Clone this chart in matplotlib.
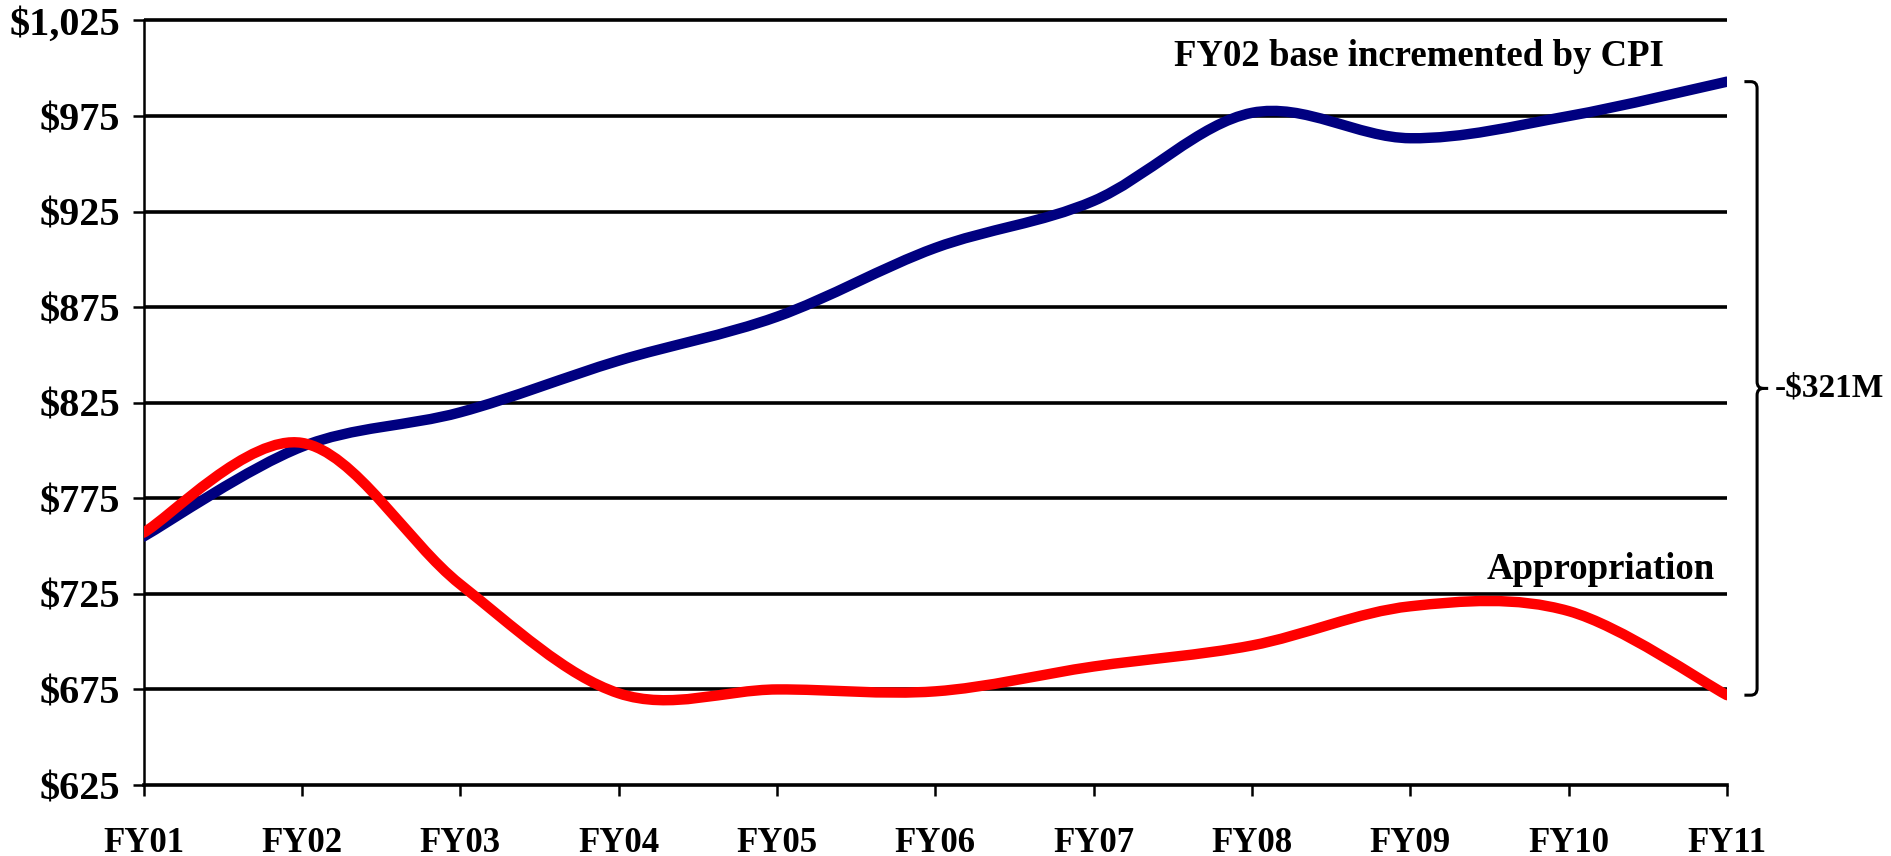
"""CPI-incremented FY02 base vs. actual appropriation, FY01-FY11."""

import matplotlib

matplotlib.use("Agg")
import matplotlib.pyplot as plt
from matplotlib.path import Path
from matplotlib.patches import PathPatch

fiscal_years = ["FY01", "FY02", "FY03", "FY04", "FY05", "FY06",
                "FY07", "FY08", "FY09", "FY10", "FY11"]
cpi_base = [755, 802, 820, 847, 870, 906, 930.6, 976.7, 963.4, 975, 993]
appropriation = [757, 804, 730, 673, 675, 674, 687, 698, 718.5, 716, 672]
y_ticks = [625, 675, 725, 775, 825, 875, 925, 975, 1025]
y_tick_labels = ["$625", "$675", "$725", "$775", "$825", "$875", "$925", "$975", "$1,025"]
gap_label = "-$321M"

plt.rcParams["font.family"] = ["Liberation Serif", "DejaVu Serif"]
plt.rcParams["font.weight"] = "bold"


def smooth_path(xs, ys):
    """Excel-style smoothed line: Bezier segments with Catmull-Rom handles."""
    pts = list(zip(xs, ys))
    n = len(pts)
    verts = [pts[0]]
    codes = [Path.MOVETO]
    for i in range(n - 1):
        p0 = pts[max(i - 1, 0)]
        p1 = pts[i]
        p2 = pts[i + 1]
        p3 = pts[min(i + 2, n - 1)]
        c1 = (p1[0] + (p2[0] - p0[0]) / 6, p1[1] + (p2[1] - p0[1]) / 6)
        c2 = (p2[0] - (p3[0] - p1[0]) / 6, p2[1] - (p3[1] - p1[1]) / 6)
        verts += [c1, c2, p2]
        codes += [Path.CURVE4] * 3
    return Path(verts, codes)


fig = plt.figure(figsize=(18.91, 8.56), dpi=100)
ax = fig.add_axes([143.5 / 1891, 71 / 856, 1583.5 / 1891, 764.5 / 856])

x = list(range(len(fiscal_years)))
ax.set_xlim(0, len(x) - 1)
ax.set_ylim(y_ticks[0], y_ticks[-1])

# horizontal gridlines, drawn unclipped so the top one is full width
ax.hlines(y_ticks[1:], 0, len(x) - 1, colors="black", lw=2.6, clip_on=False, zorder=1)

for ys, color in [(cpi_base, "#000080"), (appropriation, "#FF0000")]:
    ax.add_patch(PathPatch(smooth_path(x, ys), facecolor="none", edgecolor=color,
                           lw=7.5, capstyle="round", joinstyle="round", zorder=3))

for side in ["top", "right"]:
    ax.spines[side].set_visible(False)
ax.spines["left"].set_linewidth(1.8)
ax.spines["bottom"].set_linewidth(2.6)

ax.set_xticks(x)
ax.set_xticklabels(fiscal_years, fontsize=25, fontweight="bold")
ax.set_yticks(y_ticks)
ax.set_yticklabels(y_tick_labels, fontsize=29, fontweight="bold")
ax.tick_params(axis="x", direction="out", length=8, width=1.8, pad=22)
ax.tick_params(axis="y", direction="out", length=8, width=1.8, pad=9)

ax.text(9.60, 1006, "FY02 base incremented by CPI", ha="right", va="center",
        fontsize=26.5, fontweight="bold")
ax.text(9.92, 738, "Appropriation", ha="right", va="center",
        fontsize=26.5, fontweight="bold")

# bracket showing the gap at FY11, with small rounded corners
top, bottom = cpi_base[-1], appropriation[-1]
mid = (top + bottom) / 2
bx0, bx1, bx2 = 10.11, 10.19, 10.26
rx, ry = 0.04, 3.5
brace = Path(
    [(bx0, top), (bx1 - rx, top), (bx1, top), (bx1, top - ry),
     (bx1, mid + ry), (bx1, mid), (bx1 + rx, mid), (bx2, mid),
     (bx1 + rx, mid), (bx1, mid), (bx1, mid - ry),
     (bx1, bottom + ry), (bx1, bottom), (bx1 - rx, bottom), (bx0, bottom)],
    [Path.MOVETO, Path.LINETO, Path.CURVE3, Path.CURVE3,
     Path.LINETO, Path.CURVE3, Path.CURVE3, Path.LINETO,
     Path.MOVETO, Path.CURVE3, Path.CURVE3,
     Path.LINETO, Path.CURVE3, Path.CURVE3, Path.LINETO],
)
ax.add_patch(PathPatch(brace, facecolor="none", edgecolor="black", lw=2.2,
                       clip_on=False, zorder=2))
ax.text(bx2 + 0.04, mid, gap_label, ha="left", va="center", fontsize=24, fontweight="bold")

fig.savefig("out.png", dpi=100)
